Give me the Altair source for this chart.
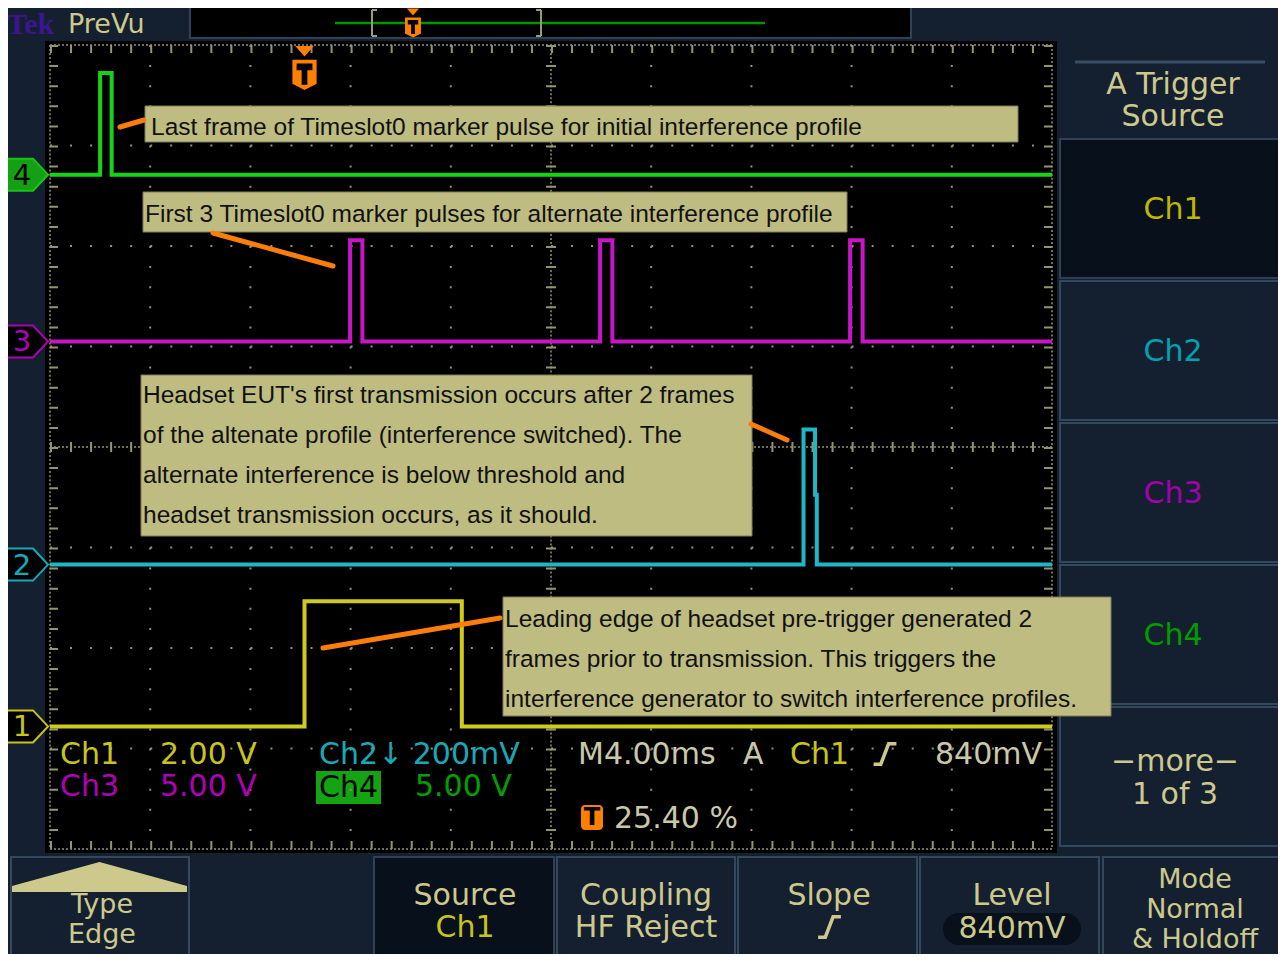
import altair as alt
import pandas as pd

# ---------------- scope settings ----------------
TIME_PER_DIV_MS = 4.0          # M4.00ms
TRIGGER_PCT = 25.40            # trigger position, % of record
TRIG_DIV = 10 * TRIGGER_PCT / 100.0

CHANNELS = ["Ch1", "Ch2", "Ch3", "Ch4"]
VOLTS_PER_DIV = [2.0, 0.2, 5.0, 5.0]
POSITION_DIV = [-2.78, -1.17, 1.05, 2.71]
TRACE_COLORS = ["#cfcb1d", "#1fb7c5", "#c716c7", "#17d317"]

# ---------------- waveforms (time ms from trigger, volts) ----------------
ch1_t = [-10.16, 0.00, 0.00, 6.28, 6.28, 29.84]
ch1_v = [0.0, 0.0, 2.49, 2.49, 0.0, 0.0]
ch2_t = [-10.16, 19.92, 19.92, 20.38, 20.38, 20.45, 20.45, 29.84]
ch2_v = [0.0, 0.0, 0.269, 0.269, 0.139, 0.139, 0.0, 0.0]
ch3_t = [-10.16, 1.82, 1.82, 2.31, 2.31, 11.80, 11.80, 12.29, 12.29,
         21.78, 21.78, 22.28, 22.28, 29.84]
ch3_v = [0.0, 0.0, 5.03, 5.03, 0.0, 0.0, 5.03, 5.03, 0.0,
         0.0, 5.03, 5.03, 0.0, 0.0]
ch4_t = [-10.16, -8.16, -8.16, -7.70, -7.70, 29.84]
ch4_v = [0.0, 0.0, 5.06, 5.06, 0.0, 0.0]

# ---------------- text ----------------
ANN1 = ["Last frame of Timeslot0 marker pulse for initial interference profile"]
ANN2 = ["First 3 Timeslot0 marker pulses for alternate interference profile"]
ANN3 = ["Headset EUT's first transmission occurs after 2 frames",
        "of the altenate profile (interference switched).  The",
        "alternate interference is below threshold and",
        "headset transmission occurs, as it should."]
ANN4 = ["Leading edge of headset pre-trigger generated 2",
        "frames prior to transmission.  This triggers the",
        "interference generator to switch interference profiles."]

# ---------------- screen geometry (display pixels -> scope units) ----------------
GRAT_X0, GRAT_DX = 50.0, 100.2
GRAT_YC, GRAT_DY = 447.0, 100.5
W, H = 1270, 946


def sx(px):
    return ((px - GRAT_X0) / GRAT_DX - TRIG_DIV) * TIME_PER_DIV_MS


def sy(py):
    return (GRAT_YC - py) / GRAT_DY


def dvx(div):
    return (div - TRIG_DIV) * TIME_PER_DIV_MS


X_DOM = [sx(8), sx(8 + W)]
Y_DOM = [sy(8 + H), sy(8)]
XS = alt.Scale(domain=X_DOM, nice=False, zero=False)
YS = alt.Scale(domain=Y_DOM, nice=False, zero=False)


def ex(f):
    return alt.X(f"{f}:Q", scale=XS, axis=None)


def ey(f):
    return alt.Y(f"{f}:Q", scale=YS, axis=None)


BG = "#142030"
KH = "#cdc98d"
WH = "#cac8aa"
YEL = "#c9c41c"
CYN = "#17a9b8"
MAG = "#b000b6"
GRN = "#00a000"
ORANGE = "#fb7d0c"
DOT = "#96946f"

layers = []

# ---------------- panels ----------------
panel_rows = [
    (190, 7, 911, 38, "#000000", "#2e4256"),
    (46, 42, 1056, 852, "#000000", "#000000"),
    (1060, 139, 1292, 278, "#07101b", "#2f4155"),
    (1060, 281, 1292, 420, "#142030", "#34485d"),
    (1060, 423, 1292, 562, "#142030", "#34485d"),
    (1060, 565, 1292, 704, "#142030", "#34485d"),
    (1060, 707, 1292, 846, "#142030", "#34485d"),
    (11, 857, 189, 970, "#142030", "#34485d"),
    (374, 857, 554, 970, "#07101b", "#2f4155"),
    (557, 857, 735, 970, "#142030", "#34485d"),
    (738, 857, 917, 970, "#142030", "#34485d"),
    (920, 857, 1099, 970, "#142030", "#34485d"),
    (1103, 857, 1292, 970, "#142030", "#34485d"),
    (317, 772, 380, 803, "#13a313", "#13a313"),
]
panels = pd.DataFrame([dict(x=sx(a), y=sy(b), x2=sx(c), y2=sy(d), fill=f, stroke=s)
                       for a, b, c, d, f, s in panel_rows])
layers.append(alt.Chart(panels).mark_rect(strokeWidth=2).encode(
    x=ex("x"), x2="x2:Q", y=ey("y"), y2="y2:Q",
    fill=alt.Fill("fill:N", scale=None), stroke=alt.Stroke("stroke:N", scale=None)))

rounded = pd.DataFrame([dict(x=sx(943), y=sy(913), x2=sx(1081), y2=sy(945), fill="#07101b")])
layers.append(alt.Chart(rounded).mark_rect(cornerRadius=16).encode(
    x=ex("x"), x2="x2:Q", y=ey("y"), y2="y2:Q", fill=alt.Fill("fill:N", scale=None)))
tbox = pd.DataFrame([dict(x=sx(581), y=sy(805), x2=sx(603), y2=sy(830), fill="#ff7f00")])
layers.append(alt.Chart(tbox).mark_rect(cornerRadius=4).encode(
    x=ex("x"), x2="x2:Q", y=ey("y"), y2="y2:Q", fill=alt.Fill("fill:N", scale=None)))

# header line of side menu, record-view line and brackets
lines_rows = [
    (1075, 62, 1265, 62, "#3a4d62", 3),
    (335, 23, 765, 23, "#009600", 2.5),
    (372, 10, 372, 36, "#9c9a7e", 2), (372, 10, 377, 10, "#9c9a7e", 2), (372, 36, 377, 36, "#9c9a7e", 2),
    (541, 10, 541, 36, "#9c9a7e", 2), (536, 10, 541, 10, "#9c9a7e", 2), (536, 36, 541, 36, "#9c9a7e", 2),
]
for a, b, c, d, col, w in lines_rows:
    df = pd.DataFrame([dict(x=sx(a), y=sy(b), x2=sx(c), y2=sy(d))])
    layers.append(alt.Chart(df).mark_rule(color=col, strokeWidth=w).encode(
        x=ex("x"), x2="x2:Q", y=ey("y"), y2="y2:Q"))

# ---------------- graticule ----------------
vmaj = pd.DataFrame([dict(x=dvx(k), y=4.0, y2=-4.0) for k in range(1, 10) if k != 5])
hmaj = pd.DataFrame([dict(x=dvx(0), x2=dvx(10), y=float(j)) for j in range(-3, 4) if j != 0])
layers.append(alt.Chart(vmaj).mark_rule(color=DOT, strokeWidth=2, strokeDash=[2, 18.1]).encode(
    x=ex("x"), y=ey("y"), y2="y2:Q"))
layers.append(alt.Chart(hmaj).mark_rule(color=DOT, strokeWidth=2, strokeDash=[2, 18.04]).encode(
    x=ex("x"), x2="x2:Q", y=ey("y")))

vdense = pd.DataFrame([dict(x=dvx(k), y=4.0, y2=-4.0) for k in (0, 5, 10)])
hdense = pd.DataFrame([dict(x=dvx(0), x2=dvx(10), y=float(j)) for j in (-4, 0, 4)])
layers.append(alt.Chart(vdense).mark_rule(color=DOT, strokeWidth=1.5, strokeDash=[2, 2.02]).encode(
    x=ex("x"), y=ey("y"), y2="y2:Q"))
layers.append(alt.Chart(hdense).mark_rule(color=DOT, strokeWidth=1.5, strokeDash=[2, 2.0]).encode(
    x=ex("x"), x2="x2:Q", y=ey("y")))
# tick marks on centre lines and border
vtick = pd.DataFrame([dict(x=dvx(k), y=4.0, y2=-4.0, w=w) for k, w in
                      ((5, 10), (0.04, 8), (9.96, 8))])
htick = pd.DataFrame([dict(x=dvx(0), x2=dvx(10), y=j, w=w) for j, w in
                      ((0.0, 10), (3.96, 8), (-3.96, 8))])
layers.append(alt.Chart(vtick).mark_rule(color=DOT, strokeDash=[2, 18.1]).encode(
    x=ex("x"), y=ey("y"), y2="y2:Q", strokeWidth=alt.StrokeWidth("w:Q", scale=None)))
layers.append(alt.Chart(htick).mark_rule(color=DOT, strokeDash=[2, 18.04]).encode(
    x=ex("x"), x2="x2:Q", y=ey("y"), strokeWidth=alt.StrokeWidth("w:Q", scale=None)))

# ---------------- traces ----------------
rows = []
for ch, ts, vs in (("Ch1", ch1_t, ch1_v), ("Ch2", ch2_t, ch2_v),
                   ("Ch3", ch3_t, ch3_v), ("Ch4", ch4_t, ch4_v)):
    i = CHANNELS.index(ch)
    for k, (t, v) in enumerate(zip(ts, vs)):
        rows.append(dict(ch=ch, t=t, ydiv=v / VOLTS_PER_DIV[i] + POSITION_DIV[i], k=k))
traces = pd.DataFrame(rows)
layers.append(alt.Chart(traces).mark_line(strokeWidth=4, strokeJoin="miter").encode(
    x=ex("t"), y=ey("ydiv"),
    color=alt.Color("ch:N", scale=alt.Scale(domain=CHANNELS, range=TRACE_COLORS), legend=None),
    order="k:Q"))

# ground markers
MARK_SHAPE = "M-1,-0.78 L0.27,-0.78 L1,0 L0.27,0.78 L-1,0.78 Z"
gm = pd.DataFrame([
    dict(x=sx(27.5), y=POSITION_DIV[0], fill="#000000", stroke=YEL, txt="1", tc=YEL),
    dict(x=sx(27.5), y=POSITION_DIV[1], fill="#000000", stroke=CYN, txt="2", tc=CYN),
    dict(x=sx(27.5), y=POSITION_DIV[2], fill="#000000", stroke=MAG, txt="3", tc=MAG),
    dict(x=sx(27.5), y=POSITION_DIV[3], fill="#14a014", stroke="#18c418", txt="4", tc="#000000"),
])
layers.append(alt.Chart(gm).mark_point(shape=MARK_SHAPE, filled=True, opacity=1, size=1681,
                                       strokeWidth=2).encode(
    x=ex("x"), y=ey("y"), fill=alt.Fill("fill:N", scale=None), stroke=alt.Stroke("stroke:N", scale=None)))
gm["tx"] = sx(22)
layers.append(alt.Chart(gm).mark_text(font="DejaVu Sans", fontSize=29, align="center",
                                      baseline="middle", dy=1).encode(
    x=ex("tx"), y=ey("y"), text="txt:N", color=alt.Color("tc:N", scale=None)))

# trigger markers
TRIG_SHAPE = "M-0.42,-1 L0.42,-1 L0,-0.52 Z M-0.55,-0.38 L0.55,-0.38 L0.55,0.72 L0,1 L-0.55,0.72 Z"
T_SHAPE = "M-0.36,-0.2 L0.36,-0.2 L0.36,0.1 L0.13,0.1 L0.13,0.76 L-0.13,0.76 L-0.13,0.1 L-0.36,0.1 Z"
trig = pd.DataFrame([dict(x=0.0, y=sy(68), s=44 * 44), dict(x=sx(413), y=sy(23), s=29 * 29)])
layers.append(alt.Chart(trig).mark_point(shape=TRIG_SHAPE, filled=True, opacity=1, color="#ff7f00").encode(
    x=ex("x"), y=ey("y"), size=alt.Size("s:Q", scale=None)))
layers.append(alt.Chart(trig).mark_point(shape=T_SHAPE, filled=True, opacity=1, color="#000000").encode(
    x=ex("x"), y=ey("y"), size=alt.Size("s:Q", scale=None)))

# slope symbols
SLOPE_SHAPE = "M-0.95,0.85 L-0.35,0.85 L0.3,-0.85 L0.95,-0.85"
slope = pd.DataFrame([dict(x=sx(885), y=sy(754)), dict(x=sx(829.5), y=sy(927))])
layers.append(alt.Chart(slope).mark_point(shape=SLOPE_SHAPE, filled=False, opacity=1, size=576,
                                          strokeWidth=3.5, color=KH).encode(x=ex("x"), y=ey("y")))

# Type button triangle
TRI_SHAPE = "M0,-0.171 L1,0.103 L1,0.171 L-1,0.171 L-1,0.103 Z"
tri = pd.DataFrame([dict(x=sx(99.5), y=sy(877))])
layers.append(alt.Chart(tri).mark_point(shape=TRI_SHAPE, filled=True, opacity=1, size=175 * 175,
                                        color=KH).encode(x=ex("x"), y=ey("y")))

# ---------------- annotation boxes & pointers ----------------
boxes = pd.DataFrame([dict(x=sx(a), y=sy(b), x2=sx(c), y2=sy(d)) for a, b, c, d in
                      ((145, 106, 1018, 142), (143, 192, 847, 232),
                       (141, 375, 752, 536), (503, 597, 1111, 716))])
layers.append(alt.Chart(boxes).mark_rect(fill="#bfbc81", stroke="#7f7d55", strokeWidth=1).encode(
    x=ex("x"), x2="x2:Q", y=ey("y"), y2="y2:Q"))
ptr = pd.DataFrame([dict(x=sx(a), y=sy(b), x2=sx(c), y2=sy(d)) for a, b, c, d in
                    ((120, 127, 144, 120), (213, 233, 333, 266),
                     (751, 424, 787, 440), (323, 648, 500, 618))])
layers.append(alt.Chart(ptr).mark_rule(color=ORANGE, strokeWidth=5, strokeCap="round").encode(
    x=ex("x"), x2="x2:Q", y=ey("y"), y2="y2:Q"))

ann_rows = [dict(x=sx(151), y=sy(135), text=ANN1[0]), dict(x=sx(145), y=sy(222), text=ANN2[0])]
ann_rows += [dict(x=sx(143), y=sy(403 + 40 * i), text=s) for i, s in enumerate(ANN3)]
ann_rows += [dict(x=sx(505), y=sy(627 + 40 * i), text=s) for i, s in enumerate(ANN4)]
layers.append(alt.Chart(pd.DataFrame(ann_rows)).mark_text(
    font="Liberation Sans", fontSize=24.5, align="left", baseline="alphabetic",
    color="#111111").encode(x=ex("x"), y=ey("y"), text="text:N"))

# ---------------- menu & readout text ----------------
menu = [("A Trigger", 1173, 85, KH), ("Source", 1173, 117, KH),
        ("Ch1", 1173, 210, "#bfb700"), ("Ch2", 1173, 352, "#00a3b3"),
        ("Ch3", 1173, 494, "#a400ac"), ("Ch4", 1173, 636, "#009c00"),
        ("\u2212more\u2212", 1175, 762, KH), ("1 of 3", 1175, 795, KH),
        ("Source", 465, 896, KH), ("Ch1", 465, 928, YEL),
        ("Coupling", 646, 896, KH), ("HF Reject", 646, 928, KH),
        ("Slope", 829, 896, KH),
        ("Level", 1012, 896, KH), ("840mV", 1012, 929, KH)]
menu_df = pd.DataFrame([dict(x=sx(a), y=sy(b), text=t, color=c) for t, a, b, c in menu])
layers.append(alt.Chart(menu_df).mark_text(font="DejaVu Sans", fontSize=30, align="center",
                                           baseline="middle").encode(
    x=ex("x"), y=ey("y"), text="text:N", color=alt.Color("color:N", scale=None)))

menu_small = [("Type", 102, 905, KH), ("Edge", 102, 935, KH),
              ("Mode", 1195, 880, KH), ("Normal", 1195, 910, KH), ("& Holdoff", 1195, 940, KH)]
ms_df = pd.DataFrame([dict(x=sx(a), y=sy(b), text=t, color=c) for t, a, b, c in menu_small])
layers.append(alt.Chart(ms_df).mark_text(font="DejaVu Sans", fontSize=27, align="center",
                                         baseline="middle").encode(
    x=ex("x"), y=ey("y"), text="text:N", color=alt.Color("color:N", scale=None)))

readout = [("Ch1", 60, 755, YEL), ("2.00 V", 160, 755, YEL),
           ("Ch3", 60, 787, MAG), ("5.00 V", 160, 787, MAG),
           ("Ch2\u2193 200mV", 319, 755, CYN),
           ("Ch4", 319, 788, "#000000"), ("5.00 V", 415, 787, GRN),
           ("M4.00ms", 578, 755, WH), ("A", 743, 755, WH), ("Ch1", 790, 755, YEL),
           ("840mV", 935, 755, WH), ("25.40 %", 614, 819, WH)]
ro_df = pd.DataFrame([dict(x=sx(a), y=sy(b), text=t, color=c) for t, a, b, c in readout])
layers.append(alt.Chart(ro_df).mark_text(font="DejaVu Sans", fontSize=30, align="left",
                                         baseline="middle").encode(
    x=ex("x"), y=ey("y"), text="text:N", color=alt.Color("color:N", scale=None)))

tt = pd.DataFrame([dict(x=sx(592), y=sy(818), text="T")])
layers.append(alt.Chart(tt).mark_text(font="DejaVu Sans", fontWeight="bold", fontSize=24,
                                      align="center", baseline="middle", color="#000000").encode(
    x=ex("x"), y=ey("y"), text="text:N"))

prevu = pd.DataFrame([dict(x=sx(68), y=sy(33), text="PreVu")])
layers.append(alt.Chart(prevu).mark_text(font="DejaVu Sans", fontSize=27, align="left",
                                         baseline="alphabetic", color=KH).encode(
    x=ex("x"), y=ey("y"), text="text:N"))

tek = pd.DataFrame([dict(x=sx(7), y=sy(34), text="Tek")])
layers.append(alt.Chart(tek).mark_text(font="Liberation Serif", fontWeight="bold", fontSize=30,
                                       align="left", baseline="alphabetic", color="#3b1690").encode(
    x=ex("x"), y=ey("y"), text="text:N"))

chart = alt.layer(*layers).properties(
    width=W, height=H, padding=0, background=BG,
    autosize=alt.AutoSizeParams(type="none"),
).configure_view(strokeWidth=0)

chart.save("out.html", embed_options={"renderer": "svg", "actions": False})
